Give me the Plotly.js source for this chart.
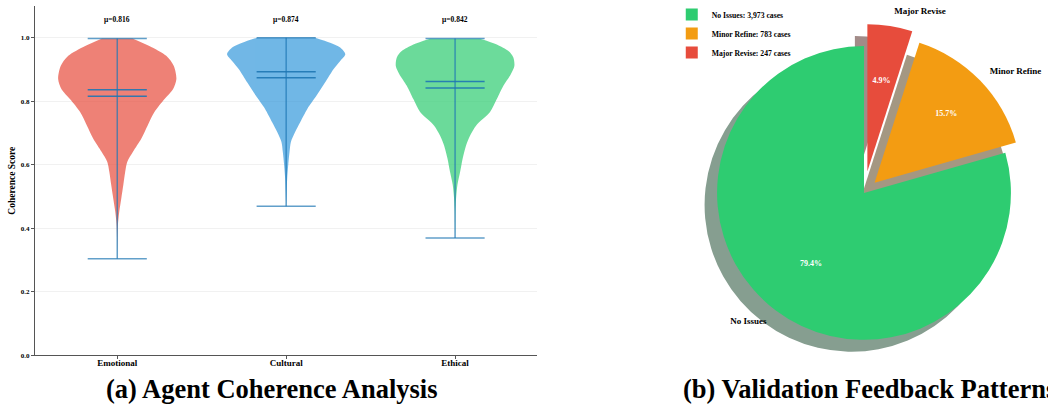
<!DOCTYPE html>
<html><head><meta charset="utf-8">
<script src="https://cdn.plot.ly/plotly-3.0.1.min.js"></script>
<style>html,body{margin:0;padding:0;background:#fff;} #chart{width:1048px;height:412px;}</style>
</head><body><div id="chart"></div>
<script>
// ---------- data: (a) Agent Coherence Analysis ----------
const categories = ['Emotional', 'Cultural', 'Ethical'];
const meanScores = [0.816, 0.874, 0.842];
const medianScores = [0.836, 0.893, 0.862];
const minScores = [0.304, 0.470, 0.370];
const maxScores = [0.998, 1.000, 0.998];
// estimated density outline: score levels and violin half-widths
const emotionalLevels = [0.998, 0.974, 0.943, 0.911, 0.870, 0.838, 0.807, 0.766, 0.724, 0.682, 0.641, 0.609, 0.578, 0.537, 0.495, 0.453, 0.412, 0.360, 0.304];
const emotionalHalfWidths = [0.090, 0.190, 0.290, 0.335, 0.350, 0.330, 0.280, 0.220, 0.180, 0.142, 0.093, 0.059, 0.047, 0.036, 0.024, 0.012, 0.004, 0.001, 0.000];
const culturalLevels = [1.000, 0.984, 0.969, 0.948, 0.927, 0.901, 0.859, 0.818, 0.776, 0.734, 0.703, 0.672, 0.641, 0.599, 0.557, 0.516, 0.471];
const culturalHalfWidths = [0.172, 0.260, 0.320, 0.350, 0.320, 0.280, 0.230, 0.180, 0.125, 0.083, 0.053, 0.028, 0.020, 0.012, 0.006, 0.003, 0.000];
const ethicalLevels = [0.997, 0.979, 0.958, 0.938, 0.911, 0.885, 0.849, 0.807, 0.766, 0.724, 0.693, 0.661, 0.620, 0.578, 0.537, 0.495, 0.453, 0.410, 0.370];
const ethicalHalfWidths = [0.148, 0.247, 0.316, 0.345, 0.351, 0.330, 0.286, 0.247, 0.207, 0.125, 0.090, 0.065, 0.045, 0.030, 0.014, 0.006, 0.002, 0.001, 0.000];

// ---------- data: (b) Validation Feedback Patterns ----------
const feedbackCategories = ['No Issues', 'Minor Refine', 'Major Revise'];
const feedbackCounts = [3973, 783, 247];

// ---------- styles ----------
const W = 1048, H = 412;
const violinFill = ['rgba(231,76,60,0.7)', 'rgba(52,152,219,0.7)', 'rgba(46,204,113,0.7)'];
const pieColors = ['#2ecc71', '#f39c12', '#e74c3c'];
const shadowColors = ['#869e90', '#a49782', '#a28b88'];
const clear = ['rgba(0,0,0,0)', 'rgba(0,0,0,0)', 'rgba(0,0,0,0)'];
const piePull = [0, 0.1, 0.15];
const capHalf = 0.175;
const FONT = 'Liberation Serif, Times New Roman, serif';
// pie placement (px): centre, radius, shadow offset
const pieCx = 864, pieCy = 191.3, pieR = 148, shadowDx = -12.5, shadowDy = 12;

const levelsList = [emotionalLevels, culturalLevels, ethicalLevels];
const widthsList = [emotionalHalfWidths, culturalHalfWidths, ethicalHalfWidths];

const traces = [];
categories.forEach((cat, i) => {
  const lv = levelsList[i], hw = widthsList[i];
  const xs = [], ys = [];
  for (let k = 0; k < lv.length; k++) { xs.push(i + hw[k]); ys.push(lv[k]); }
  for (let k = lv.length - 1; k >= 0; k--) { xs.push(i - hw[k]); ys.push(lv[k]); }
  traces.push({
    type: 'scatter', mode: 'lines', x: xs, y: ys, fill: 'toself',
    fillcolor: violinFill[i], line: {width: 0, shape: 'spline', smoothing: 0.8},
    hoverinfo: 'skip', showlegend: false, xaxis: 'x', yaxis: 'y'
  });
});

function segs(fn) {
  const x = [], y = [];
  categories.forEach((c, i) => { const s = fn(i); x.push(s[0], s[1], null); y.push(s[2], s[3], null); });
  return {x, y};
}
const bars = segs(i => [i, i, minScores[i], maxScores[i]]);
const minCaps = segs(i => [i - capHalf, i + capHalf, minScores[i], minScores[i]]);
const maxCaps = segs(i => [i - capHalf, i + capHalf, maxScores[i], maxScores[i]]);
const meanLines = segs(i => [i - capHalf, i + capHalf, meanScores[i], meanScores[i]]);
const medLines = segs(i => [i - capHalf, i + capHalf, medianScores[i], medianScores[i]]);
[[bars, 0.7], [minCaps, 0.7], [maxCaps, 0.7], [meanLines, 0.9], [medLines, 0.9]].forEach(([s, op]) => {
  traces.push({type: 'scatter', mode: 'lines', x: s.x, y: s.y, line: {color: '#1f77b4', width: 1.5},
    opacity: op, hoverinfo: 'skip', showlegend: false, xaxis: 'x', yaxis: 'y'});
});

// pie: first slice starts at 12 o'clock and runs counter-clockwise (as in the reference)
const total = feedbackCounts.reduce((a, b) => a + b, 0);
const pieRotation = 360 * (1 - feedbackCounts[0] / total);
const legendLabels = feedbackCategories.map((c, i) => c + ': ' + feedbackCounts[i].toLocaleString('en-US') + ' cases');
function pieLayer(cx, cy, r, noPull) {
  // pull stays the same number of pixels whatever the layer radius
  const pull = piePull.map(p => noPull ? 0 : p * pieR / r);
  const half = r * (1 + Math.max(...pull));
  return {pull: pull, domain: {x: [(cx - half) / W, (cx + half) / W], y: [1 - (cy + half) / H, 1 - (cy - half) / H]}};
}
const pieCommon = {type: 'pie', values: feedbackCounts, sort: false, direction: 'counterclockwise',
  rotation: pieRotation, hoverinfo: 'skip'};
const pctFont = {family: FONT, size: 8, color: '#ffffff', weight: 'bold'};
// shadow
traces.push(Object.assign({}, pieCommon, pieLayer(pieCx + shadowDx, pieCy + shadowDy, pieR), {
  labels: feedbackCategories.map(c => c + ' shadow'),
  marker: {colors: shadowColors, line: {width: 0}}, textinfo: 'none', showlegend: false
}));
// main slices + percentage of the middle slice
traces.push(Object.assign({}, pieCommon, pieLayer(pieCx, pieCy, pieR), {
  labels: legendLabels,
  marker: {colors: pieColors, line: {width: 0}}, texttemplate: '%{percent:.1%}',
  textposition: ['none', 'inside', 'none'], insidetextorientation: 'horizontal', insidetextfont: pctFont
}));
// percentage of the narrow slice, placed closer to the centre
traces.push(Object.assign({}, pieCommon, pieLayer(pieCx, pieCy, pieR * 0.72), {
  labels: feedbackCategories.map(c => c + ' pct'),
  marker: {colors: clear, line: {width: 0}}, texttemplate: '%{percent:.1%}',
  textposition: ['none', 'none', 'inside'], insidetextorientation: 'horizontal',
  insidetextfont: pctFont, showlegend: false
}));
// percentage of the large slice, placed a little further out
traces.push(Object.assign({}, pieCommon, pieLayer(pieCx, pieCy, pieR * 1.2, true), {
  labels: feedbackCategories.map(c => c + ' pct2'),
  marker: {colors: clear, line: {width: 0}}, texttemplate: '%{percent:.1%}',
  textposition: ['inside', 'none', 'none'], insidetextorientation: 'horizontal',
  insidetextfont: pctFont, showlegend: false
}));
// outside category labels
traces.push(Object.assign({}, pieCommon, pieLayer(pieCx, pieCy, pieR + 10), {
  labels: feedbackCategories.map(c => c + ' label'),
  text: feedbackCategories, textinfo: 'text', textposition: 'outside',
  outsidetextfont: {family: FONT, size: 9, color: '#000000', weight: 'bold'},
  marker: {colors: clear, line: {width: 0}}, showlegend: false
}));

const annotations = categories.map((c, i) => ({
  xref: 'x', yref: 'y', x: i, y: 1.056, text: 'μ=' + meanScores[i].toFixed(3), showarrow: false,
  font: {family: FONT, size: 7.5, color: '#000', weight: 'bold'}
}));
annotations.push({xref: 'paper', yref: 'paper', x: 0.2595, y: 0.056, xanchor: 'center', yanchor: 'middle',
  text: '(a) Agent Coherence Analysis', showarrow: false, font: {family: FONT, size: 26.5, color: '#000', weight: 'bold'}});
annotations.push({xref: 'paper', yref: 'paper', x: 0.6495, y: 0.056, xanchor: 'left', yanchor: 'middle',
  text: '(b) Validation Feedback Patterns', showarrow: false, font: {family: FONT, size: 26.5, color: '#000', weight: 'bold'}});

const layout = {
  width: W, height: H, margin: {l: 0, r: 0, t: 0, b: 0},
  paper_bgcolor: '#fff', plot_bgcolor: '#fff', hovermode: false,
  font: {family: FONT, color: '#000'},
  xaxis: {domain: [0.0334, 0.5124], range: [-0.487, 2.485], tickvals: [0, 1, 2], ticktext: categories,
    showgrid: false, zeroline: false, showline: true, linecolor: '#555', linewidth: 1,
    ticks: 'outside', ticklen: 3, tickcolor: '#555', ticklabelstandoff: -4,
    tickfont: {family: FONT, size: 9, weight: 'bold'}},
  yaxis: {domain: [0.1383, 0.9927], range: [0, 1.1], dtick: 0.2, tick0: 0, tickformat: '.1f',
    showgrid: true, gridcolor: '#eeeeee', gridwidth: 0.8, zeroline: false, showline: true, linecolor: '#555', linewidth: 1,
    ticks: 'outside', ticklen: 3, tickcolor: '#555', tickfont: {family: FONT, size: 7, weight: 'bold'},
    title: {text: 'Coherence Score', font: {family: FONT, size: 9.5, weight: 'bold'}, standoff: 3}},
  legend: {x: 0.641, y: 1.008, xanchor: 'left', yanchor: 'top', bgcolor: 'rgba(0,0,0,0)',
    font: {family: FONT, size: 7.7, weight: 'bold'}},
  annotations: annotations
};
Plotly.newPlot('chart', traces, layout, {displayModeBar: false, staticPlot: true});
</script>
</body></html>
